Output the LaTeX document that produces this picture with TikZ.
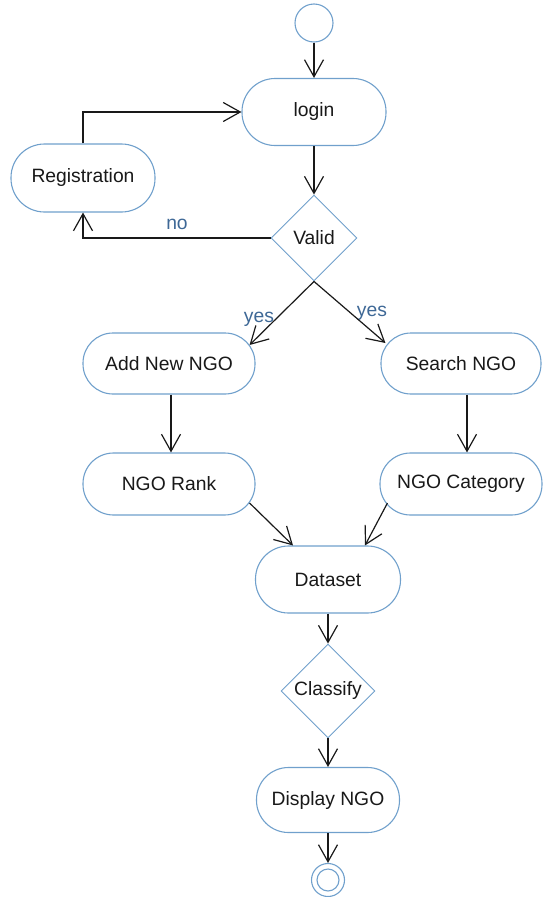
\documentclass[tikz,border=0pt]{standalone}
\usepackage{fontspec}
\setmainfont{Liberation Sans}
\usetikzlibrary{arrows.meta,shapes.geometric,calc}
\definecolor{nodeblue}{RGB}{112,160,204}
\definecolor{labelblue}{RGB}{62,104,150}
\definecolor{inkgrey}{RGB}{25,25,25}
\begin{document}
\begin{tikzpicture}[x=1pt,y=-1pt,
  txt/.style={font=\fontsize{19.3}{22}\selectfont, text=inkgrey},
  % #1 = width, #2 = height; ends are half circles
  action/.style 2 args={txt, draw=nodeblue, line width=1.1pt, fill=white,
    rounded corners=#2/2-0.5pt, inner sep=0pt, minimum width=#1, minimum height=#2},
  decision/.style={txt, diamond, draw=nodeblue, line width=0.9pt, fill=white,
    inner sep=0pt, minimum width=#1, minimum height=#1},
  guard/.style={font=\fontsize{19.3}{22}\selectfont, text=labelblue, inner sep=0pt},
  flow/.style={draw=inkgrey, line width=1.2pt,
    -{Straight Barb[length=17pt,width=19pt,line width=1.2pt]}},
]
% page frame
\useasboundingbox (0,0) rectangle (543,897);

% initial node
\node[circle, draw=nodeblue, line width=1.1pt, minimum size=38pt, inner sep=0pt] (start) at (314,23) {};

% actions and decisions
\node[action={144pt}{67pt}] (login) at (314,112) {login};
\node[action={144pt}{68pt}] (reg) at (83,178) {Registration};
\node[decision=86pt] (valid) at (314,238) {Valid};
\node[action={172pt}{61pt}] (add) at (169,363.5) {Add New NGO};
\node[action={160pt}{61pt}] (search) at (461,363.5) {Search NGO};
\node[action={172pt}{62pt}] (rank) at (169,484) {NGO Rank};
\node[action={162pt}{62pt}] (cat) at (461,484) {NGO Category};
\node[action={145pt}{67pt}] (data) at (328,579.5) {Dataset};
\node[decision=94pt] (classify) at (328,691) {Classify};
\node[action={143pt}{65pt}] (display) at (328,800) {Display NGO};

% final node
\node[circle, draw=nodeblue, line width=1.1pt, minimum size=33pt, inner sep=0pt] (final) at (328,880) {};
\node[circle, draw=nodeblue, line width=1.1pt, minimum size=22pt, inner sep=0pt] (finalin) at (final) {};

% guard labels
\node[guard] (no) at (177,224) {no};
\node[guard] (yesl) at (259,319) {yes};
\node[guard] (yesr) at (372,313) {yes};

% control flow
\draw[flow] (start.south) -- (login.north);
\draw[flow] (login.south) -- (valid.north);
\draw[flow] (reg.north) |- (login.west);
\draw[flow] (valid.west) -| (reg.south);
\draw[flow] (valid.south) -- ($(add.east)+(-6,-18.5)$);
\draw[flow] (valid.south) -- ($(search.west)+(5,-20.5)$);
\draw[flow] ($(add.south)+(2,0)$) -- ($(rank.north)+(2,0)$);
\draw[flow] ($(search.south)+(6,0)$) -- ($(cat.north)+(6,0)$);
\draw[flow] ($(rank.east)+(-6,19)$) -- ($(data.north)+(-35,0)$);
\draw[flow] ($(cat.west)+(8,19)$) -- ($(data.north)+(37,0)$);
\draw[flow] (data.south) -- (classify.north);
\draw[flow] (classify.south) -- (display.north);
\draw[flow] (display.south) -- (final.north);
\end{tikzpicture}
\end{document}
